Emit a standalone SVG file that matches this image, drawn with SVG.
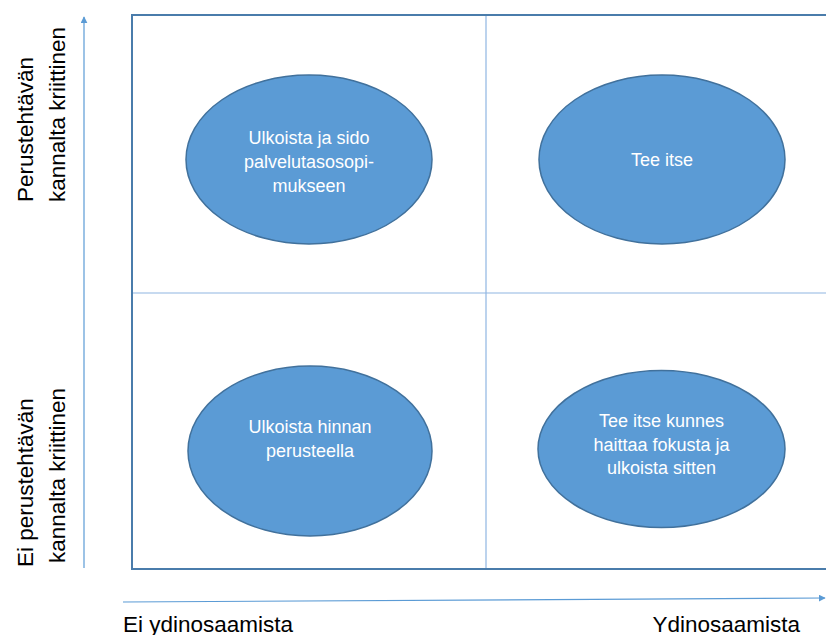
<svg xmlns="http://www.w3.org/2000/svg" width="826" height="635" viewBox="0 0 826 635">
  <style>
    .frame { fill: none; stroke: #4a7cab; stroke-width: 2; }
    .divider { fill: none; stroke: #8fb6e2; stroke-width: 1.2; }
    .axis { fill: none; stroke: #5b9bd5; stroke-width: 1.2; }
    .bubble { fill: #5b9bd5; stroke: #41719c; stroke-width: 1.5; }
    .inner { font-family: "Liberation Sans", Arial, sans-serif; font-size: 18px; fill: #ffffff; text-anchor: middle; }
    .label { font-family: "Liberation Sans", Arial, sans-serif; font-size: 22.5px; fill: #000000; }
  </style>
  <defs>
    <marker id="head" viewBox="0 0 10 10" refX="9" refY="5" markerWidth="7" markerHeight="7" markerUnits="userSpaceOnUse" orient="auto">
      <path d="M0,0 L10,5 L0,10 Z" fill="#5b9bd5"/>
    </marker>
  </defs>

  <rect width="826" height="635" fill="#ffffff"/>

  <!-- quadrant frame and dividers -->
  <g id="grid">
    <path class="frame" d="M830,15 L132,15 L132,569 L830,569"/>
    <line class="divider" x1="486" y1="16" x2="486" y2="568"/>
    <line class="divider" x1="133" y1="293" x2="826" y2="293"/>
  </g>

  <!-- axes -->
  <g id="connectors">
    <line class="axis" x1="84" y1="568" x2="84" y2="17" marker-end="url(#head)"/>
    <line class="axis" x1="123" y1="602" x2="825" y2="598" marker-end="url(#head)"/>
  </g>

  <g id="node-top-left">
    <ellipse class="bubble" cx="309" cy="159.5" rx="123" ry="84.5"/>
    <text class="inner" x="309" y="144">Ulkoista ja sido</text>
    <text class="inner" x="309" y="168">palvelutasosopi-</text>
    <text class="inner" x="309" y="192">mukseen</text>
  </g>

  <g id="node-top-right">
    <ellipse class="bubble" cx="662" cy="159.5" rx="123" ry="84.5"/>
    <text class="inner" x="662" y="166">Tee itse</text>
  </g>

  <g id="node-bottom-left">
    <ellipse class="bubble" cx="310" cy="451" rx="122" ry="85"/>
    <text class="inner" x="310" y="433">Ulkoista hinnan</text>
    <text class="inner" x="310" y="457">perusteella</text>
  </g>

  <g id="node-bottom-right">
    <ellipse class="bubble" cx="661.5" cy="449" rx="123.5" ry="78.5"/>
    <text class="inner" x="661.5" y="427">Tee itse kunnes</text>
    <text class="inner" x="661.5" y="451">haittaa fokusta ja</text>
    <text class="inner" x="661.5" y="474">ulkoista sitten</text>
  </g>

  <!-- axis labels -->
  <g id="labels">
    <text class="label" x="123" y="632">Ei ydinosaamista</text>
    <text class="label" x="800" y="632" text-anchor="end">Ydinosaamista</text>
    <text class="label" transform="translate(33,202) rotate(-90)">Perustehtävän</text>
    <text class="label" transform="translate(65,202) rotate(-90)">kannalta kriittinen</text>
    <text class="label" transform="translate(33,567) rotate(-90)">Ei perustehtävän</text>
    <text class="label" transform="translate(65,563) rotate(-90)">kannalta kriittinen</text>
  </g>
</svg>
